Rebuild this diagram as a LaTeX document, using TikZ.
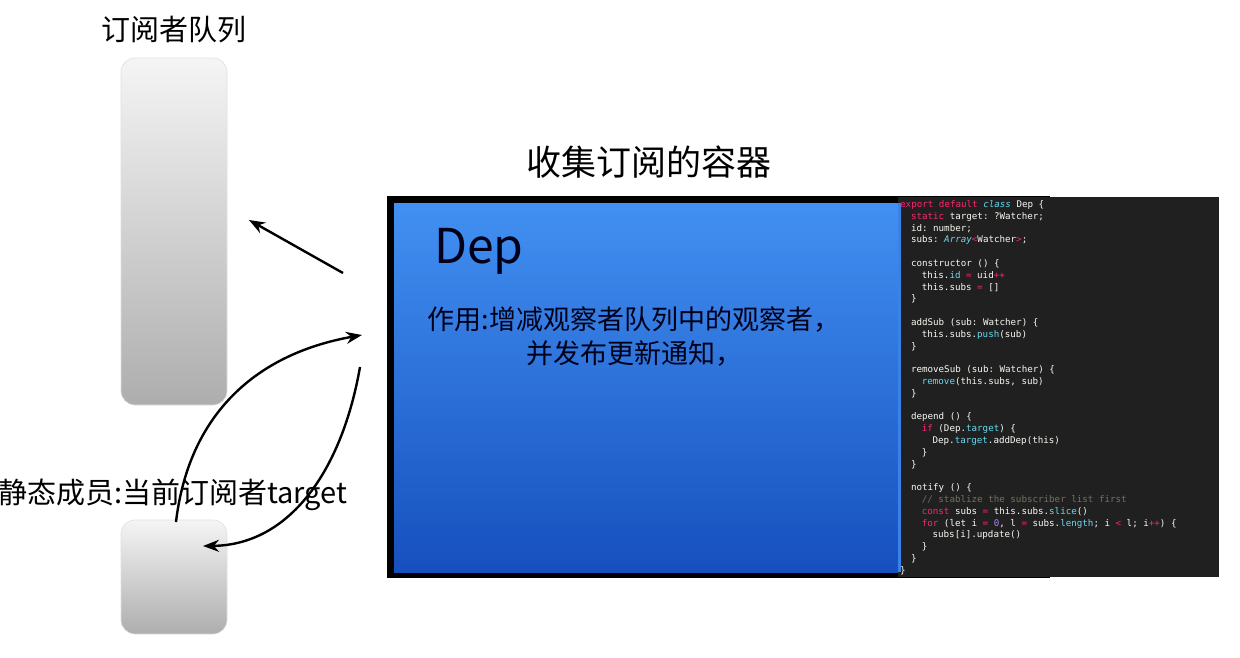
\documentclass[tikz,border=0pt]{standalone}
\usepackage{fontspec}
\setmainfont{Noto Sans CJK SC}
\setmonofont{DejaVu Sans Mono}
\newfontfamily\cjk{Noto Sans CJK SC}
\usetikzlibrary{arrows.meta}
\definecolor{kw}{RGB}{249,38,114}
\definecolor{ty}{RGB}{102,217,239}
\definecolor{cm}{RGB}{117,113,94}
\definecolor{nm}{RGB}{174,129,255}
\definecolor{fg}{RGB}{248,248,242}
\definecolor{codebg}{RGB}{32,32,32}
\definecolor{bluetop}{RGB}{66,144,242}
\definecolor{bluebot}{RGB}{22,80,190}
\tikzset{
  lbl/.style={font=\cjk, text=black, inner sep=0pt},
  code/.style={font=\ttfamily\fontsize{9.2}{10}\selectfont, text=fg, inner sep=0pt, anchor=base west},
  bar/.style={rounded corners=14pt, top color=black!4, bottom color=black!32, draw=black!12, line width=0.6pt},
  arr/.style={-{Stealth[length=16pt,width=12pt]}, line width=2.4pt, black}
}
\begin{document}
\begin{tikzpicture}[x=1pt,y=-1pt]
\useasboundingbox (0,0) rectangle (1240,657);
\fill[white] (0,0) rectangle (1240,657);
% subscriber queue
\shade[bar] (121,58) rectangle (227,405);
\node[lbl, font=\cjk\fontsize{29}{32}\selectfont] (qt) at (174,30) {订阅者队列};
% target box
\shade[bar] (121,520) rectangle (227,634);
\node[lbl, font=\cjk\fontsize{29}{32}\selectfont, anchor=base west] (tt) at (-2,503) {静态成员:当前订阅者target};
% container
\node[lbl, font=\cjk\fontsize{35}{38}\selectfont] (ct) at (649,162) {收集订阅的容器};
\fill[black] (387,196) rectangle (1050,578);
\shade[top color=bluetop, bottom color=bluebot] (394,203) rectangle (900,572);
\fill[codebg] (898,197) rectangle (1219,577);
\fill[bluetop!80!bluebot] (898,203) rectangle (901,572);
\node[lbl, font=\cjk\fontsize{48}{50}\selectfont, anchor=base west, text=black!90!blue] (dep) at (434,263) {Dep};
\node[lbl, font=\cjk\fontsize{27}{30}\selectfont, text=black!90!blue] (d1) at (634,320) {作用:增减观察者队列中的观察者，};
\node[lbl, font=\cjk\fontsize{27}{30}\selectfont, text=black!90!blue] (d2) at (634,354) {并发布更新通知，};
% code
\node[code] (c1) at (900,207.5) {\textcolor{kw}{export default} \textcolor{ty}{\itshape class} Dep \{};
\node[code] (c2) at (910.8,219.3) {\textcolor{kw}{static} target: ?Watcher;};
\node[code] (c3) at (910.8,231.1) {id: number;};
\node[code] (c4) at (910.8,242.9) {subs: \textcolor{ty}{\itshape Array}\textcolor{kw}{<}Watcher\textcolor{kw}{>};};
\node[code] (c6) at (910.8,266.5) {constructor () \{};
\node[code] (c7) at (921.6,278.3) {this.\textcolor{ty}{id} \textcolor{kw}{=} uid\textcolor{kw}{++}};
\node[code] (c8) at (921.6,290.1) {this.subs \textcolor{kw}{=} []};
\node[code] (c9) at (910.8,301.9) {\}};
\node[code] (c11) at (910.8,325.5) {addSub (sub: Watcher) \{};
\node[code] (c12) at (921.6,337.3) {this.subs.\textcolor{ty}{push}(sub)};
\node[code] (c13) at (910.8,349.1) {\}};
\node[code] (c15) at (910.8,372.7) {removeSub (sub: Watcher) \{};
\node[code] (c16) at (921.6,384.5) {\textcolor{ty}{remove}(this.subs, sub)};
\node[code] (c17) at (910.8,396.3) {\}};
\node[code] (c19) at (910.8,419.9) {depend () \{};
\node[code] (c20) at (921.6,431.7) {\textcolor{kw}{if} (Dep.\textcolor{ty}{target}) \{};
\node[code] (c21) at (932.4,443.5) {Dep.\textcolor{ty}{target}.addDep(this)};
\node[code] (c22) at (921.6,455.3) {\}};
\node[code] (c23) at (910.8,467.1) {\}};
\node[code] (c25) at (910.8,490.7) {notify () \{};
\node[code] (c26) at (921.6,502.5) {\textcolor{cm}{// stablize the subscriber list first}};
\node[code] (c27) at (921.6,514.3) {\textcolor{kw}{const} subs \textcolor{kw}{=} this.subs.\textcolor{ty}{slice}()};
\node[code] (c28) at (921.6,526.1) {\textcolor{kw}{for} (let i \textcolor{kw}{=} \textcolor{nm}{0}, l \textcolor{kw}{=} subs.\textcolor{ty}{length}; i \textcolor{kw}{<} l; i\textcolor{kw}{++}) \{};
\node[code] (c29) at (932.4,537.9) {subs[i].update()};
\node[code] (c30) at (921.6,549.7) {\}};
\node[code] (c31) at (910.8,561.5) {\}};
\node[code] (c32) at (900,573.3) {\}};
% arrows
\coordinate (a1s) at (343,273);
\coordinate (a1e) at (249,220);
\coordinate (a2s) at (176,522);
\coordinate (a2e) at (362,335);
\coordinate (a3s) at (360,367);
\coordinate (a3e) at (203,546);
\draw[arr] (a1s) -- (a1e);
\draw[arr] (a2s) .. controls (188,420) and (250,355) .. (a2e);
\draw[arr] (a3s) .. controls (342,470) and (290,545) .. (a3e);
\end{tikzpicture}
\end{document}
